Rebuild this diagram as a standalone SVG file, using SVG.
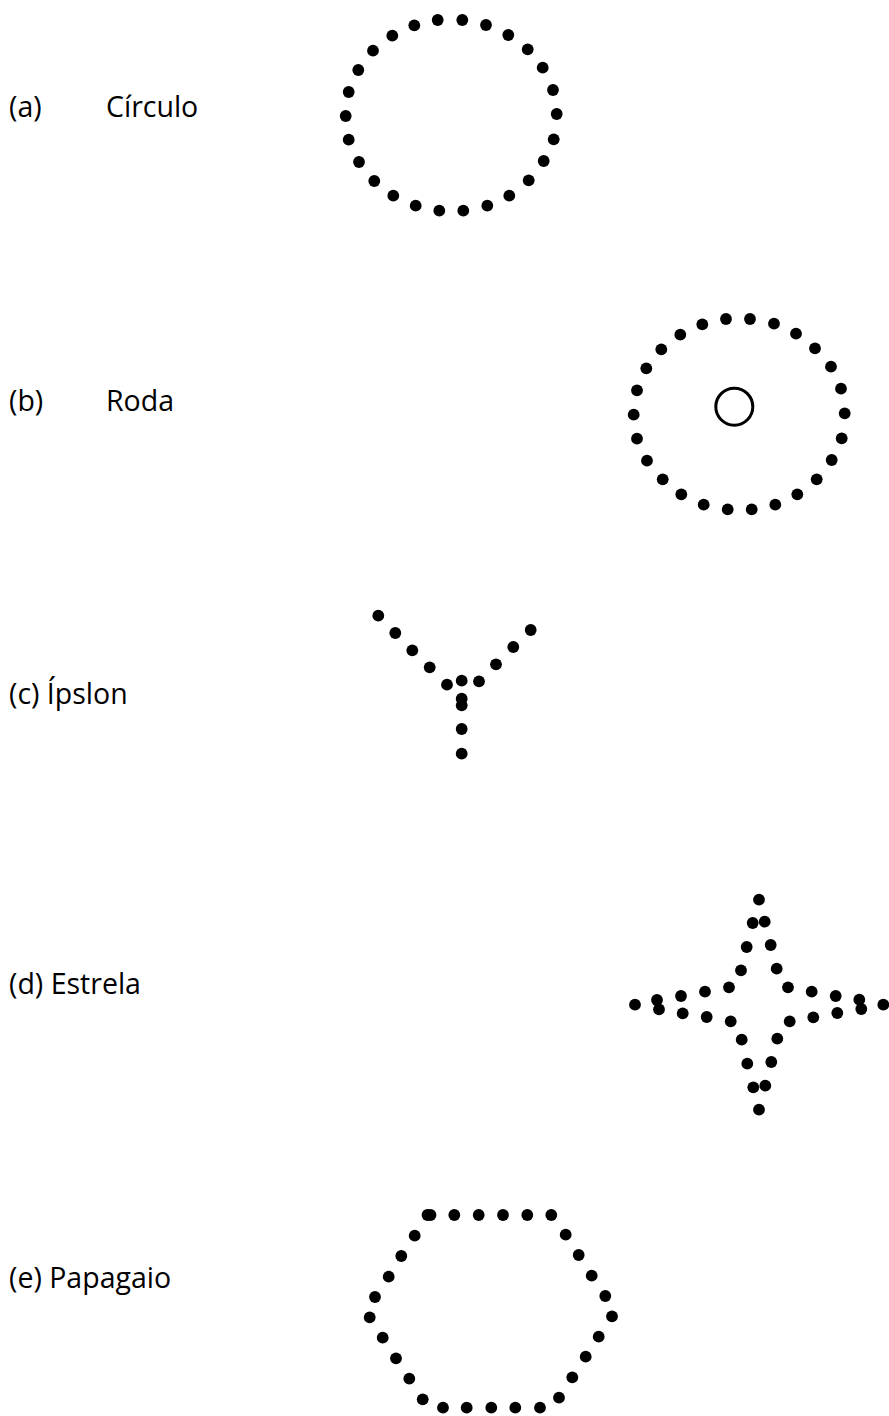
<svg xmlns="http://www.w3.org/2000/svg" width="889" height="1416" viewBox="0 0 889 1416">
  <style>
    .lbl { font-family: "Open Sans", "Liberation Sans", sans-serif; font-size: 28.5px; fill: #000; }
    .dot { fill: #000; }
    .ring { fill: none; stroke: #000; stroke-width: 3; }
  </style>
  <defs>
    <circle id="d" r="5.9" class="dot"/>
  </defs>
  <rect width="889" height="1416" fill="#fff"/>

  <!-- labels -->
  <g id="labels">
    <text class="lbl" x="9" y="117">(a)</text>
    <text class="lbl" x="106" y="117">Círculo</text>
    <text class="lbl" x="9" y="411">(b)</text>
    <text class="lbl" x="106" y="411">Roda</text>
    <text class="lbl" x="9" y="704">(c) Ípslon</text>
    <text class="lbl" x="9" y="994">(d) Estrela</text>
    <text class="lbl" x="9" y="1288">(e) Papagaio</text>
  </g>

  <!-- (a) dotted circle -->
  <g id="circulo">
    <use href="#d" x="437.7" y="20"/><use href="#d" x="462.3" y="20"/>
    <use href="#d" x="486" y="25"/><use href="#d" x="508.3" y="35"/>
    <use href="#d" x="527.7" y="49.3"/><use href="#d" x="542.7" y="67.7"/>
    <use href="#d" x="553" y="90"/><use href="#d" x="556.7" y="114"/>
    <use href="#d" x="553.7" y="139.3"/><use href="#d" x="543.7" y="161"/>
    <use href="#d" x="528.7" y="180.3"/><use href="#d" x="509.3" y="195.7"/>
    <use href="#d" x="487.3" y="205.7"/><use href="#d" x="463.3" y="210.7"/>
    <use href="#d" x="439.3" y="210.7"/><use href="#d" x="415.7" y="205.7"/>
    <use href="#d" x="393.3" y="195.7"/><use href="#d" x="374.3" y="181"/>
    <use href="#d" x="359" y="162"/><use href="#d" x="348.7" y="139.7"/>
    <use href="#d" x="345.7" y="116"/><use href="#d" x="348.7" y="92"/>
    <use href="#d" x="358.3" y="70"/><use href="#d" x="373" y="50.7"/>
    <use href="#d" x="392.3" y="35.7"/><use href="#d" x="414.3" y="25.3"/>
  </g>

  <!-- (b) dotted circle with hub -->
  <g id="roda">
    <use href="#d" x="726" y="319"/><use href="#d" x="750" y="319"/>
    <use href="#d" x="774" y="323.7"/><use href="#d" x="796" y="333.7"/>
    <use href="#d" x="815" y="348.3"/><use href="#d" x="831" y="366.7"/>
    <use href="#d" x="841" y="388.7"/><use href="#d" x="844.7" y="413.3"/>
    <use href="#d" x="841.7" y="438.3"/><use href="#d" x="831.7" y="460"/>
    <use href="#d" x="816.7" y="479.3"/><use href="#d" x="797.3" y="494.3"/>
    <use href="#d" x="775.3" y="504.7"/><use href="#d" x="751.7" y="509.3"/>
    <use href="#d" x="727.7" y="509.3"/><use href="#d" x="703.7" y="504.7"/>
    <use href="#d" x="681.3" y="494.3"/><use href="#d" x="662.7" y="479.3"/>
    <use href="#d" x="647" y="460.7"/><use href="#d" x="637" y="438.7"/>
    <use href="#d" x="633.7" y="414.7"/><use href="#d" x="637" y="390.3"/>
    <use href="#d" x="646.3" y="368.3"/><use href="#d" x="661.3" y="349.3"/>
    <use href="#d" x="680.3" y="334.7"/><use href="#d" x="702.3" y="324.3"/>
    <circle class="ring" cx="734.3" cy="406.7" r="18.5"/>
  </g>

  <!-- (c) Y shape -->
  <g id="ipslon">
    <use href="#d" x="378.3" y="615.7"/><use href="#d" x="395.3" y="633"/>
    <use href="#d" x="412.3" y="650.3"/><use href="#d" x="429.7" y="667.3"/>
    <use href="#d" x="447" y="684.7"/><use href="#d" x="461.7" y="680.7"/>
    <use href="#d" x="479" y="681.3"/><use href="#d" x="496" y="664.3"/>
    <use href="#d" x="513.3" y="647"/><use href="#d" x="530.7" y="630"/>
    <use href="#d" x="461.7" y="698.7"/><use href="#d" x="461.7" y="705.3"/>
    <use href="#d" x="461.7" y="729"/><use href="#d" x="461.7" y="753.7"/>
  </g>

  <!-- (d) four-pointed star -->
  <g id="estrela">
    <use href="#d" x="759" y="899.7"/>
    <use href="#d" x="752.7" y="923"/><use href="#d" x="764.7" y="921.7"/>
    <use href="#d" x="746.7" y="947"/><use href="#d" x="770.7" y="945"/>
    <use href="#d" x="741" y="970.3"/><use href="#d" x="776.7" y="968.7"/>
    <use href="#d" x="729" y="987.3"/><use href="#d" x="788" y="987.3"/>
    <use href="#d" x="705" y="991.7"/><use href="#d" x="681" y="996"/>
    <use href="#d" x="657" y="1000"/><use href="#d" x="635" y="1004.7"/>
    <use href="#d" x="659" y="1009.3"/><use href="#d" x="682.7" y="1013.3"/>
    <use href="#d" x="706.7" y="1017"/><use href="#d" x="730.7" y="1021.3"/>
    <use href="#d" x="811.7" y="991.7"/><use href="#d" x="835.7" y="996"/>
    <use href="#d" x="859.3" y="999.7"/><use href="#d" x="883.3" y="1004.7"/>
    <use href="#d" x="861.3" y="1009"/><use href="#d" x="837.3" y="1013"/>
    <use href="#d" x="813.3" y="1017.3"/><use href="#d" x="789.7" y="1021.3"/>
    <use href="#d" x="741.7" y="1039.7"/><use href="#d" x="777.3" y="1038.7"/>
    <use href="#d" x="747.3" y="1063.7"/><use href="#d" x="771.3" y="1062"/>
    <use href="#d" x="753.3" y="1087.3"/><use href="#d" x="765.3" y="1085.7"/>
    <use href="#d" x="759" y="1109.7"/>
  </g>

  <!-- (e) hexagon -->
  <g id="papagaio">
    <use href="#d" x="427.5" y="1215"/><use href="#d" x="430.5" y="1215"/>
    <use href="#d" x="454.3" y="1215"/><use href="#d" x="478.7" y="1215"/>
    <use href="#d" x="503" y="1215"/><use href="#d" x="527.3" y="1215"/>
    <use href="#d" x="551.3" y="1215"/>
    <use href="#d" x="565.7" y="1234.7"/><use href="#d" x="578.7" y="1255"/>
    <use href="#d" x="591.7" y="1275.7"/><use href="#d" x="605.3" y="1296"/>
    <use href="#d" x="612" y="1316.3"/><use href="#d" x="598.7" y="1336.7"/>
    <use href="#d" x="585.7" y="1356.7"/><use href="#d" x="572.3" y="1377.3"/>
    <use href="#d" x="559" y="1397.7"/>
    <use href="#d" x="540" y="1407.7"/><use href="#d" x="515.3" y="1407.7"/>
    <use href="#d" x="491.3" y="1407.7"/><use href="#d" x="466.7" y="1407.7"/>
    <use href="#d" x="443" y="1407.7"/>
    <use href="#d" x="422.7" y="1399.3"/><use href="#d" x="409.3" y="1378.7"/>
    <use href="#d" x="396" y="1358.3"/><use href="#d" x="382.7" y="1337.7"/>
    <use href="#d" x="369.7" y="1317.3"/><use href="#d" x="375" y="1297"/>
    <use href="#d" x="388.7" y="1276.7"/><use href="#d" x="401.3" y="1256"/>
    <use href="#d" x="414.7" y="1235.7"/>
  </g>
</svg>
